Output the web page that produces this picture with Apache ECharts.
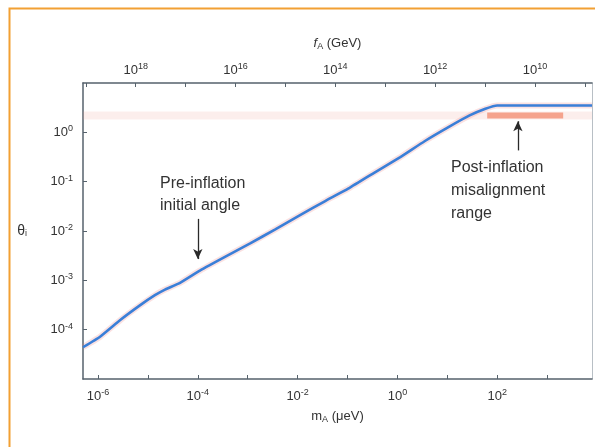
<!DOCTYPE html>
<html><head><meta charset="utf-8">
<script src="https://cdn.jsdelivr.net/npm/echarts@6/dist/echarts.min.js"></script>
<style>html,body{margin:0;padding:0;background:#fff}#c{width:595px;height:447px}</style>
</head><body><div id="c"></div>
<script>
// axion mass m_A (μeV) and initial misalignment angle θ_i
const massValues  = [5.0e-7, 1.1e-6, 2.75e-6, 6.9e-6, 1.38e-5, 2.2e-5, 4.4e-5, 1.1e-4, 3.5e-4, 1.12e-3, 3.5e-3, 1.12e-2, 3.5e-2, 0.112, 0.355, 1.12, 3.5, 11.2, 28, 58, 100, 180, 7943];
const thetaValues = [4.4e-5, 7.2e-5, 1.55e-4, 3.1e-4, 5.0e-4, 6.5e-4, 8.9e-4, 1.58e-3, 3.0e-3, 5.6e-3, 1.07e-2, 2.1e-2, 4.0e-2, 7.6e-2, 0.155, 0.31, 0.66, 1.32, 2.2, 3.0, 3.5, 3.5, 3.5];
const postRangeMass = [63, 2100];
const postRangeTheta = 2.2;
const massAxisRange = [5.0e-7, 7943];
const thetaAxisRange = [1e-5, 10];
const massTickLabels = [1e-6, 1e-4, 1e-2, 1, 1e2];
const massTicks = [1e-6, 1e-5, 1e-4, 1e-3, 1e-2, 1e-1, 1, 1e1, 1e2, 1e3];
const faTickLabels = [1e18, 1e16, 1e14, 1e12, 1e10];
const faTicks = [1e19, 1e18, 1e17, 1e16, 1e15, 1e14, 1e13, 1e12, 1e11, 1e10, 1e9];
const thetaTickLabels = [1e-4, 1e-3, 1e-2, 1e-1, 1];
const thetaTicks = [1e-4, 1e-3, 1e-2, 1e-1, 1];
const massPerFa = 5.7e12; // m_A[μeV] = 5.7e12 / f_A[GeV]
const preArrow = {m: 1e-4, from: 0.0176, to: 0.0027};
const postArrow = {m: 260, from: 0.43, to: 1.68};

const FONT = "'Liberation Sans', Arial, Helvetica, sans-serif";
const TXT = '#333333';
const AXC = '#56626c';
const sup = {sup: {fontSize: 9, verticalAlign: 'top', padding: [0,0,7,0], color: TXT, fontFamily: FONT}};
function powLabel(v) { const e = Math.round(Math.log10(v)); return '10{sup|' + e + '}'; }

const curve = massValues.map((m, i) => [m, thetaValues[i]]);
const faAtMass = v => massPerFa / v;

const chart = echarts.init(document.getElementById('c'), null, {renderer: 'canvas'});
const axisCommon = {
  type: 'log', logBase: 10, min: massAxisRange[0], max: massAxisRange[1],
  splitLine: {show: false},
  axisLine: {show: true, onZero: false, lineStyle: {color: AXC, width: 1.5}},
};
const subRich = {fontSize: 9, verticalAlign: 'bottom', padding: [6,0,0,0], color: TXT, fontFamily: FONT};
chart.setOption({
  animation: false,
  grid: {left: 83, right: 3, top: 83, bottom: 68, containLabel: false},
  graphic: [
    {type: 'rect', shape: {x: 9.5, y: 8.5, width: 700, height: 600}, style: {fill: 'none', stroke: '#f2a033', lineWidth: 2}, silent: true},
    {type: 'text', left: 160, top: 173, style: {text: 'Pre-inflation\ninitial angle', font: '16px ' + FONT, fill: TXT, lineHeight: 22}},
    {type: 'text', left: 451, top: 156, style: {text: 'Post-inflation\nmisalignment\nrange', font: '16px ' + FONT, fill: TXT, lineHeight: 23}}
  ],
  xAxis: [
    Object.assign({}, axisCommon, {
      position: 'bottom',
      name: '{n|m}{sub|A} (μeV)', nameLocation: 'middle', nameGap: 30,
      nameTextStyle: {color: TXT, fontSize: 13, fontFamily: FONT, rich: {n: {fontSize: 13, color: TXT, fontFamily: FONT}, sub: subRich}},
      axisTick: {show: true, inside: true, length: 4, lineStyle: {color: AXC, width: 1}, customValues: massTicks},
      axisLabel: {show: true, margin: 9, color: TXT, fontSize: 13, fontFamily: FONT, customValues: massTickLabels, formatter: powLabel, rich: sup}
    }),
    Object.assign({}, axisCommon, {
      position: 'top',
      name: '{i|f}{sub|A} (GeV)', nameLocation: 'middle', nameGap: 32,
      nameTextStyle: {color: TXT, fontSize: 13, fontFamily: FONT, rich: {i: {fontSize: 13, fontStyle: 'italic', color: TXT, fontFamily: FONT}, sub: subRich}},
      axisTick: {show: true, inside: true, length: 4, lineStyle: {color: AXC, width: 1}, customValues: faTicks.map(f => massPerFa / f)},
      axisLabel: {show: true, margin: 5, color: TXT, fontSize: 13, fontFamily: FONT,
        customValues: faTickLabels.map(f => massPerFa / f),
        formatter: v => powLabel(faAtMass(v)), rich: sup}
    })
  ],
  yAxis: [
    {
      type: 'log', logBase: 10, min: thetaAxisRange[0], max: thetaAxisRange[1], position: 'left',
      name: '{n|θ}{sub|i}', nameLocation: 'middle', nameGap: 56, nameRotate: 0,
      nameTextStyle: {color: TXT, fontSize: 14, fontFamily: FONT, rich: {n: {fontSize: 14, color: TXT, fontFamily: FONT}, sub: subRich}},
      splitLine: {show: false},
      axisLine: {show: true, onZero: false, lineStyle: {color: AXC, width: 1.5}},
      axisTick: {show: true, inside: true, length: 4, lineStyle: {color: AXC, width: 1}, customValues: thetaTicks},
      axisLabel: {show: true, margin: 10, color: TXT, fontSize: 13, fontFamily: FONT, customValues: thetaTickLabels, formatter: powLabel, rich: sup}
    },
    {
      type: 'log', logBase: 10, min: thetaAxisRange[0], max: thetaAxisRange[1], position: 'right',
      splitLine: {show: false},
      axisLine: {show: true, onZero: false, lineStyle: {color: '#b8bfc5', width: 1}},
      axisTick: {show: false}, axisLabel: {show: false}
    }
  ],
  series: [
    {
      type: 'line', name: 'band', xAxisIndex: 0, yAxisIndex: 0, silent: true, symbol: 'none',
      data: [[massAxisRange[0], postRangeTheta], [massAxisRange[1], postRangeTheta]],
      lineStyle: {color: 'rgba(238,150,135,0.16)', width: 8}, z: 1
    },
    {
      type: 'line', name: 'post', xAxisIndex: 0, yAxisIndex: 0, silent: true, symbol: 'none',
      data: postRangeMass.map(m => [m, postRangeTheta]),
      lineStyle: {color: 'rgba(244,150,125,0.85)', width: 6, cap: 'butt'}, z: 2
    },
    {
      type: 'line', name: 'halo', xAxisIndex: 0, yAxisIndex: 0, silent: true, symbol: 'none', smooth: 0.12,
      data: curve, lineStyle: {color: 'rgba(235,120,120,0.22)', width: 6}, z: 3
    },
    {
      type: 'line', name: 'theta', xAxisIndex: 0, yAxisIndex: 0, symbol: 'none', smooth: 0.12,
      data: curve, lineStyle: {color: '#3a7fd8', width: 2.6}, z: 4,
      markLine: {
        silent: true, symbol: ['none', 'arrow'], symbolSize: [7, 10], precision: 10,
        lineStyle: {color: '#2a2a2a', width: 1.3, type: 'solid'}, label: {show: false},
        data: [
          [{coord: [preArrow.m, preArrow.from]}, {coord: [preArrow.m, preArrow.to]}],
          [{coord: [postArrow.m, postArrow.from]}, {coord: [postArrow.m, postArrow.to]}]
        ]
      }
    }
  ]
});
</script></body></html>
